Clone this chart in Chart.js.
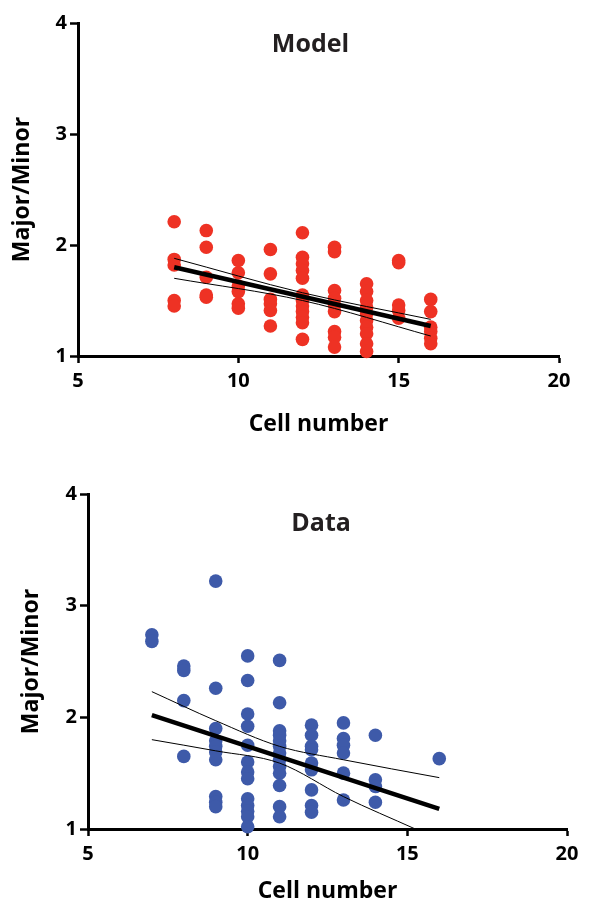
<!DOCTYPE html>
<html>
<head>
<meta charset="utf-8">
<script src="https://cdn.jsdelivr.net/npm/chart.js@4"></script>
<style>
  html, body { margin: 0; padding: 0; background: #fff; }
  #wrap { position: relative; width: 606px; height: 908px; }
  .box { position: absolute; left: 0; width: 606px; height: 454px; }
</style>
</head>
<body>
<div id="wrap">
  <div class="box" style="top:0"><canvas id="c1" width="606" height="454"></canvas></div>
  <div class="box" style="top:454px"><canvas id="c2" width="606" height="454"></canvas></div>
</div>
<script>
// ---------- Model panel ----------
const modelTitle = "Model";
const modelX = [
  8,8,8,8,8,
  9,9,9,9,9,
  10,10,10,10,10,10,
  11,11,11,11,11,11,
  12,12,12,12,12,12,12,12,12,12,12,12,
  13,13,13,13,13,13,13,13,13,
  14,14,14,14,14,14,14,14,14,14,
  15,15,15,15,15,
  16,16,16,16,16,16
];
const modelY = [
  2.21,1.87,1.82,1.50,1.45,
  2.13,1.98,1.71,1.55,1.53,
  1.86,1.75,1.63,1.58,1.47,1.43,
  1.96,1.74,1.51,1.47,1.41,1.27,
  2.11,1.89,1.83,1.77,1.70,1.55,1.50,1.45,1.40,1.35,1.30,1.15,
  1.98,1.94,1.59,1.52,1.46,1.40,1.22,1.17,1.08,
  1.65,1.58,1.50,1.44,1.38,1.32,1.26,1.20,1.11,1.04,
  1.86,1.84,1.46,1.41,1.34,
  1.51,1.40,1.26,1.22,1.16,1.11
];
const modelFitX = [8, 16];
const modelFitY = [1.80, 1.27];
const modelUpperX = [8, 12, 16];
const modelUpperY = [1.88, 1.57, 1.33];
const modelLowerX = [8, 12, 16];
const modelLowerY = [1.70, 1.50, 1.18];

// ---------- Data panel ----------
const dataTitle = "Data";
const dataX = [
  7,7,
  8,8,8,8,
  9,9,9,9,9,9,9,9,9,9,
  10,10,10,10,10,10,10,10,10,10,10,10,10,
  11,11,11,11,11,11,11,11,11,11,11,11,11,
  12,12,12,12,12,12,12,12,12,
  13,13,13,13,13,13,
  14,14,14,14,
  16
];
const dataY = [
  2.74,2.68,
  2.46,2.42,2.15,1.65,
  3.22,2.26,1.90,1.79,1.74,1.69,1.62,1.29,1.24,1.20,
  2.55,2.33,2.03,1.92,1.75,1.60,1.51,1.45,1.27,1.21,1.16,1.11,1.02,
  2.51,2.13,1.88,1.84,1.79,1.74,1.68,1.62,1.56,1.50,1.39,1.20,1.11,
  1.93,1.84,1.74,1.71,1.59,1.53,1.35,1.21,1.15,
  1.95,1.81,1.75,1.68,1.50,1.26,
  1.84,1.44,1.38,1.24,
  1.63
];
const dataFitX = [7, 16];
const dataFitY = [2.02, 1.18];
const dataUpperX = [7, 9, 11, 13, 16];
const dataUpperY = [2.23, 1.97, 1.74, 1.62, 1.46];
const dataLowerX = [7, 9, 11, 13, 15.25];
const dataLowerY = [1.80, 1.70, 1.59, 1.29, 1.00];

// ---------- axes ----------
const xTicks = [5, 10, 15, 20];
const yTicks = [1, 2, 3, 4];
const xAxisTitle = "Cell number";
const yAxisTitle = "Major/Minor";

const FONT = "'Open Sans', 'DejaVu Sans', sans-serif";

function pts(xs, ys) { return xs.map((x, i) => ({ x: x, y: ys[i] })); }

const panelTitlePlugin = {
  id: 'panelTitle',
  afterDraw(chart, args, opts) {
    const ctx = chart.ctx;
    const xs = chart.scales.x, ys = chart.scales.y;
    ctx.save();
    ctx.font = "700 25px " + FONT;
    ctx.fillStyle = "#231f20";
    ctx.textAlign = "center";
    ctx.textBaseline = "middle";
    ctx.fillText(opts.text, xs.getPixelForValue(opts.x), ys.getPixelForValue(opts.y));
    ctx.restore();
  }
};

function makeChart(id, cfg) {
  const axisWidth = cfg.axisWidth;
  const xAxisHeight = cfg.xAxisHeight;
  return new Chart(document.getElementById(id), {
    type: 'scatter',
    data: {
      datasets: [
        { data: pts(cfg.fitX, cfg.fitY), showLine: true, borderColor: '#000', borderWidth: 4.5,
          pointRadius: 0, order: 0, borderCapStyle: 'butt' },
        { data: pts(cfg.upX, cfg.upY), showLine: true, borderColor: '#000', borderWidth: 1,
          pointRadius: 0, order: 0, cubicInterpolationMode: 'monotone' },
        { data: pts(cfg.loX, cfg.loY), showLine: true, borderColor: '#000', borderWidth: 1,
          pointRadius: 0, order: 0, cubicInterpolationMode: 'monotone' },
        { data: pts(cfg.px, cfg.py), showLine: false, backgroundColor: cfg.color, borderColor: cfg.color,
          borderWidth: 0, pointRadius: 6.8, order: 1 }
      ]
    },
    options: {
      responsive: false,
      animation: false,
      clip: false,
      layout: { padding: { left: 0, right: cfg.padRight, top: cfg.padTop, bottom: 0 } },
      plugins: {
        legend: { display: false },
        tooltip: { enabled: false },
        panelTitle: { text: cfg.title, x: cfg.titleX, y: cfg.titleY }
      },
      scales: {
        x: {
          type: 'linear', min: 5, max: 20,
          afterBuildTicks(s) { s.ticks = xTicks.map(v => ({ value: v })); },
          afterFit(s) { s.height = xAxisHeight; },
          border: { display: true, color: '#000', width: 3 },
          grid: { display: true, drawOnChartArea: false, drawTicks: true, tickLength: 7, tickWidth: 2.5, color: '#000' },
          ticks: { color: '#000', padding: 6, font: { family: FONT, size: 20, weight: '700' } },
          title: { display: true, text: xAxisTitle, color: '#000',
                   font: { family: FONT, size: 23, weight: '700' }, padding: { top: 0, bottom: cfg.xTitlePad } }
        },
        y: {
          type: 'linear', min: 1, max: 4,
          afterBuildTicks(s) { s.ticks = yTicks.map(v => ({ value: v })); },
          afterFit(s) { s.width = axisWidth; },
          border: { display: true, color: '#000', width: 3 },
          grid: { display: true, drawOnChartArea: false, drawTicks: true, tickLength: 8, tickWidth: 2.5, color: '#000' },
          ticks: { color: '#000', padding: 3, font: { family: FONT, size: 20, weight: '700' } },
          title: { display: true, text: yAxisTitle, color: '#000',
                   font: { family: FONT, size: 23, weight: '700' }, padding: { top: cfg.yTitlePad, bottom: 0 } }
        }
      }
    },
    plugins: [panelTitlePlugin]
  });
}

makeChart('c1', {
  px: modelX, py: modelY, color: '#ee3224',
  fitX: modelFitX, fitY: modelFitY, upX: modelUpperX, upY: modelUpperY, loX: modelLowerX, loY: modelLowerY,
  title: modelTitle, titleX: 12.25, titleY: 3.8,
  axisWidth: 78, xAxisHeight: 98, padRight: 47, padTop: 23, xTitlePad: 16, yTitlePad: 9
});
makeChart('c2', {
  px: dataX, py: dataY, color: '#3e5aa9',
  fitX: dataFitX, fitY: dataFitY, upX: dataUpperX, upY: dataUpperY, loX: dataLowerX, loY: dataLowerY,
  title: dataTitle, titleX: 12.3, titleY: 3.73,
  axisWidth: 88, xAxisHeight: 79, padRight: 39, padTop: 40, xTitlePad: 3, yTitlePad: 18
});
</script>
</body>
</html>
